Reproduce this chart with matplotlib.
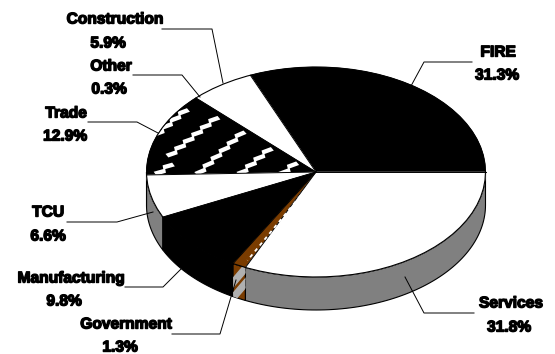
# plot.py
# 3D-look pie of employment shares, drawn in image pixel coordinates

import numpy as np
import matplotlib
matplotlib.use("Agg")
import matplotlib.pyplot as plt
import matplotlib.patheffects as pe
from matplotlib.patches import Polygon

# Values, counter-clockwise from due east
categories = ["FIRE", "Construction", "Other", "Trade", "TCU",
              "Manufacturing", "Government", "Services"]
shares = [31.3, 5.9, 0.3, 12.9, 6.6, 9.8, 1.3, 31.8]
share_labels = ["31.3%", "5.9%", "0.3%", "12.9%", "6.6%", "9.8%", "1.3%", "31.8%"]

# Pie geometry and styles
cx, cy, rx, ry, depth = 316, 172, 169.5, 105, 33
BROWN = "#7a3c00"
GREY = "#808080"
top_colors = ["black", "white", "white", "black", "white", "black", BROWN, "white"]
side_colors = ["black", "white", "white", "black", GREY, "black", BROWN, GREY]

# Label anchors (line one centre x, y, line two centre x, y) and leader lines
label_pos = [(498, 52, 497, 75), (115, 19, 108, 43), (111, 66, 109, 89),
             (66, 113, 65, 136), (48, 212, 48, 236), (71, 278, 64, 301),
             (126, 324, 120, 347), (511, 303, 509, 327)]
leaders = [[(411, 86), (424, 62), (472, 62)],
           [(223, 83), (212, 29), (162, 29)],
           [(200, 97), (182, 75), (133, 75)],
           [(158, 133), (137, 122), (88, 122)],
           [(153, 212), (117, 222), (67, 222)],
           [(181, 269), (163, 287), (125, 287)],
           [(236, 280), (220, 334), (172, 334)],
           [(405, 277), (424, 313), (474, 313)]]

# Lightning stripes across the Trade wedge
trade_stripes = [[(156, 175), (181, 157)], [(168, 157), (222, 113)],
                 [(197, 175), (247, 128)], [(239, 175), (273, 146)],
                 [(281, 175), (300, 159)], [(155, 136), (194, 103)]]


def arc(a0, a1, dy=0):
    t = np.radians(np.linspace(a0, a1, 80))
    return np.column_stack([cx + rx * np.cos(t), cy - ry * np.sin(t) + dy])


def bolt(p, q, step=11.0, amp=1.7, half=2.3):
    # band of constant width whose centre line is a sawtooth
    p, q = np.array(p, float), np.array(q, float)
    length = np.hypot(*(q - p))
    d = (q - p) / length
    normal = np.array([-d[1], d[0]])
    centre = []
    for i in range(max(int(length / step), 1)):
        base = p + d * step * i
        centre += [base - normal * amp, base + d * step * 0.85 + normal * amp]
    centre = np.array(centre)
    return np.vstack([centre + normal * half, (centre - normal * half)[::-1]])


fig = plt.figure(figsize=(5.55, 3.54), dpi=100)
ax = fig.add_axes([0, 0, 1, 1])
ax.set_xlim(0, 555)
ax.set_ylim(354, 0)
ax.axis("off")

edges = np.cumsum([0] + shares) / sum(shares) * 360

# Sides, only the front half of the rim
for i in range(len(shares)):
    a0, a1 = max(edges[i], 180), edges[i + 1]
    if a1 <= 180:
        continue
    rim = np.vstack([arc(a0, a1), arc(a1, a0, depth)])
    ax.add_patch(Polygon(rim, fc=side_colors[i], ec="black", lw=0.8, zorder=2))
    if categories[i] == "Government":
        clip = Polygon(rim, transform=ax.transData, fc="none", ec="none")
        ax.add_patch(clip)
        x0 = rim[0, 0]
        for k in range(2):
            y0 = rim[0, 1] + 7 + k * 15
            band = ax.fill([x0 - 2, x0 + 15, x0 + 15, x0 - 2],
                           [y0 + 10, y0 - 10, y0 - 1, y0 + 19], color="#b0b0b0", zorder=3)[0]
            band.set_clip_path(clip)

# Top faces, no outline of their own
faces = {}
for i in range(len(shares)):
    face = np.vstack([[cx, cy], arc(edges[i], edges[i + 1])])
    faces[categories[i]] = ax.add_patch(
        Polygon(face, fc=top_colors[i], ec=top_colors[i], lw=0.3, zorder=4))

for stripe in trade_stripes:
    ax.add_patch(Polygon(bolt(*stripe), fc="white", ec="none", zorder=5)).set_clip_path(faces["Trade"])

# Rim of the top face and the radial lines that show in the picture
rim_top = arc(0, 360)
ax.plot(rim_top[:, 0], rim_top[:, 1], color="black", lw=0.8, zorder=6)
for i, a in enumerate(edges[:-1]):
    if categories[i] in ("Other",):
        continue
    end = arc(a, a)[0]
    ax.plot([cx, end[0]], [cy, end[1]], color="black", lw=0.7, zorder=6)

# White flecks along the Government slice
i = categories.index("Government")
mid = arc(edges[i + 1], edges[i + 1], 0)[0]
ax.plot([cx - 6, mid[0] + 2], [cy + 12, mid[1] - 7], color="white", lw=1.3,
        ls=(0, (2, 2.2)), zorder=7)

# Leaders and labels
for line in leaders:
    pts = np.array(line)
    ax.plot(pts[:, 0], pts[:, 1], color="black", lw=0.7, zorder=8)

for name, pct, pos in zip(categories, share_labels, label_pos):
    for txt, x, y in ((name, pos[0], pos[1]), (pct, pos[2], pos[3])):
        ax.text(x, y, txt, ha="center", va="center", fontsize=11.2, fontweight="bold",
                family="Liberation Sans", zorder=9,
                path_effects=[pe.withStroke(linewidth=1.0, foreground="black")])

fig.savefig("out.png", dpi=100)
